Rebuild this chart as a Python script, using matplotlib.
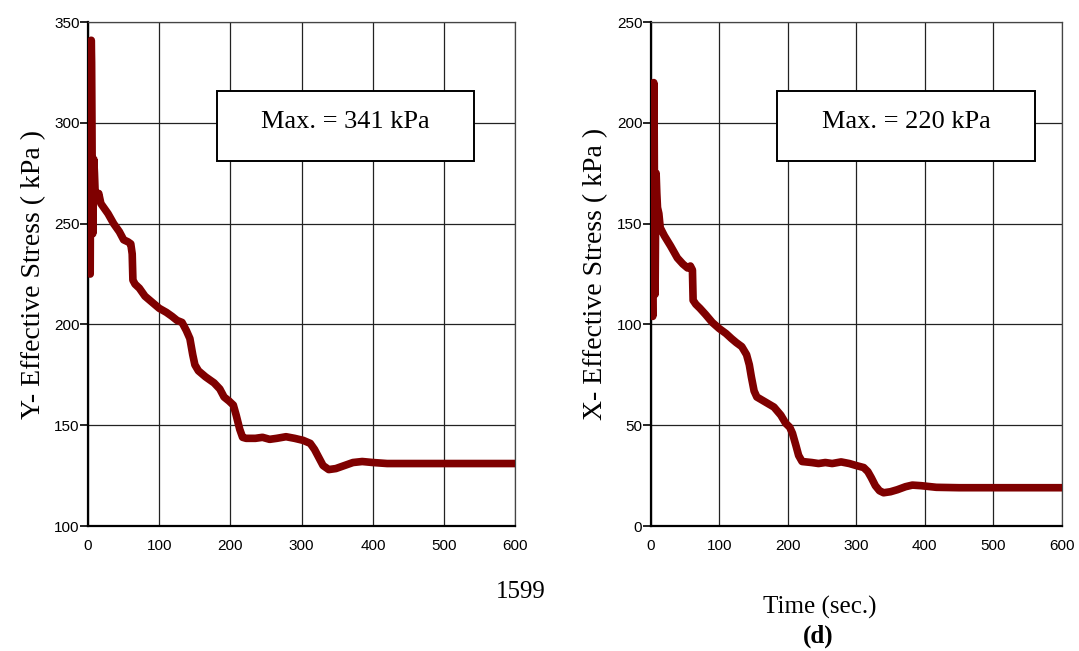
import matplotlib.pyplot as plt
from matplotlib.patches import Rectangle

# Y effective stress history (kPa)
t_y = [0, 0.5, 1, 1.5, 2, 2.5, 3, 3.5, 4, 4.5, 5, 5.5, 6, 6.5, 7, 7.5, 8, 9, 10, 12, 15, 18,
       22, 28, 36, 44, 50, 56, 60, 62, 63, 66, 72, 80, 90, 100, 110, 118, 125, 132, 138,
       143, 147, 150, 155, 165, 177, 185, 191, 198, 204, 208, 213, 217, 222, 235, 245,
       255, 265, 278, 290, 302, 312, 318, 324, 330, 338, 348, 360, 372, 385, 400, 420, 600]
s_y = [276, 255, 300, 320, 280, 235, 225, 270, 315, 341, 330, 300, 260, 245, 250, 270,
       282, 275, 265, 262, 265, 260, 258, 255, 250, 246, 242, 241, 240, 235, 222, 220,
       218, 214, 211, 208, 206, 204, 202, 201, 197, 193, 185, 180, 177, 174, 171, 168,
       164, 162, 160, 155, 148, 144, 143.5, 143.5, 144, 143, 143.5, 144.3, 143.5, 142.5,
       141, 138, 134, 130, 128, 128.5, 130, 131.5, 132, 131.5, 131, 131]

# X effective stress history (kPa)
t_x = [0, 0.5, 1, 1.5, 2, 2.5, 3, 3.5, 4, 4.5, 5, 5.5, 6, 6.5, 7, 7.5, 8, 9, 10, 12, 14,
       20, 29, 39, 47, 54, 58, 61, 62, 66, 72, 80, 90, 100, 110, 118, 125, 133, 140, 144,
       147, 151, 155, 165, 180, 190, 197, 203, 207, 212, 216, 221, 235, 245, 255, 265,
       278, 290, 300, 311, 317, 322, 328, 334, 340, 350, 360, 372, 382, 395, 417, 450, 600]
s_x = [168, 150, 190, 205, 165, 120, 104, 150, 200, 220, 210, 170, 130, 115, 140, 165,
       175, 165, 158, 155, 148, 144, 139, 133, 130, 128, 129, 127, 112, 110, 108, 105,
       101, 98, 95.5, 93, 91, 89, 85, 80, 74, 67, 64, 62, 59, 55, 51, 49, 46, 40, 35,
       32, 31.5, 31, 31.5, 31, 31.8, 31, 30, 29, 27, 24, 20, 17.5, 16.5, 17, 18, 19.5,
       20.3, 20, 19.2, 19, 19]

xticks = [0, 100, 200, 300, 400, 500, 600]
yticks_left = [100, 150, 200, 250, 300, 350]
yticks_right = [0, 50, 100, 150, 200, 250]

red = '#7f0000'
serif = ['Liberation Serif', 'DejaVu Serif']
narrow = ['Liberation Sans Narrow', 'Liberation Sans', 'DejaVu Sans']

fig = plt.figure(figsize=(10.79, 6.51), dpi=100)
ax1 = fig.add_axes([0.0816, 0.192, 0.396, 0.774])
ax2 = fig.add_axes([0.603, 0.192, 0.381, 0.774])


def style(ax, yticks, label, box, boxtext):
    ax.set_xlim(0, 600)
    ax.set_ylim(yticks[0], yticks[-1])
    ax.set_xticks(xticks)
    ax.set_yticks(yticks)
    ax.grid(True, color='#222222', lw=0.9)
    ax.set_axisbelow(True)
    for side in ['top', 'right']:
        ax.spines[side].set_linewidth(0.9)
        ax.spines[side].set_color('#444444')
    for side in ['left', 'bottom']:
        ax.spines[side].set_linewidth(1.6)
    ax.tick_params(axis='y', direction='out', length=6, width=1.2, pad=0)
    ax.tick_params(axis='x', length=0, pad=9)
    for lab in ax.get_xticklabels() + ax.get_yticklabels():
        lab.set_family(narrow)
        lab.set_fontsize(11)
    ax.set_ylabel(label, family=serif, fontsize=20, labelpad=6)
    x0, y0, x1, y1 = box
    ax.add_patch(Rectangle((x0, y0), x1 - x0, y1 - y0, facecolor='white',
                           edgecolor='black', lw=1.4, zorder=5))
    ax.text((x0 + x1) / 2, y0 + (y1 - y0) * 0.56, boxtext, family=serif,
            fontsize=19, ha='center', va='center', zorder=6)


ax1.plot(t_y, s_y, color=red, lw=5.5, zorder=3)
ax2.plot(t_x, s_x, color=red, lw=5.5, zorder=3)

style(ax1, yticks_left, 'Y- Effective Stress ( kPa )', (181, 281, 542, 316), 'Max. = 341 kPa')
style(ax2, yticks_right, 'X- Effective Stress ( kPa )', (185, 181, 561, 216), 'Max. = 220 kPa')

fig.text(521 / 1079, 1 - 592 / 651, '1599', family=serif, fontsize=18, ha='center', va='center')
fig.text(820 / 1079, 1 - 607 / 651, 'Time (sec.)', family=serif, fontsize=18, ha='center', va='center')
fig.text(818 / 1079, 1 - 636 / 651, '(d)', family=serif, fontsize=18, fontweight='bold',
         ha='center', va='center')

fig.savefig('out.png', dpi=100)
plt.close(fig)
